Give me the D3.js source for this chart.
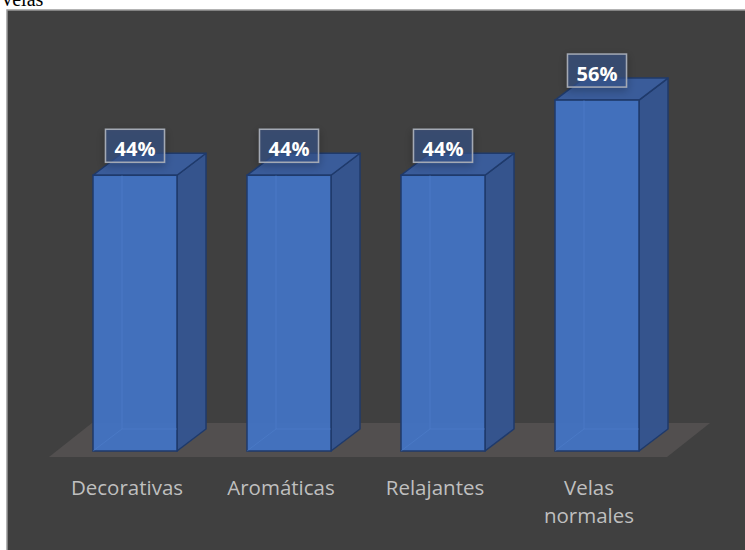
<!DOCTYPE html>
<html>
<head>
<meta charset="utf-8">
<script src="https://cdn.jsdelivr.net/npm/d3@7"></script>
<style>
  html, body { margin: 0; padding: 0; background: #ffffff; }
  svg { display: block; }
</style>
</head>
<body>
<svg id="chart" width="745" height="550"></svg>
<script>
// Survey shares by candle type
const categories = ["Decorativas", "Aromáticas", "Relajantes", "Velas normales"];
const values = [44, 44, 44, 56];
const valueLabels = ["44%", "44%", "44%", "56%"];
const chartTitle = "Velas";

const W = 745, H = 550;
const svg = d3.select("#chart");

// page heading, partly clipped by the top edge
svg.append("text")
  .attr("x", 0).attr("y", 6)
  .attr("font-family", "'Liberation Serif', 'Times New Roman', serif")
  .attr("font-size", 20)
  .attr("fill", "#000")
  .text(chartTitle);

// chart area
svg.append("rect")
  .attr("x", 7).attr("y", 10)
  .attr("width", W).attr("height", H)
  .attr("fill", "#404040")
  .attr("stroke", "#9a9a9a")
  .attr("stroke-width", 1.5);

// scales
const x = d3.scaleBand()
  .domain(categories)
  .range([23, 709])
  .padding(70 / 154);
const y = d3.scaleLinear()
  .domain([0, 60])
  .range([451, 75]);

// 3D depth offsets
const bdx = 29, bdy = -22;   // bar depth
const fdx = 43, fdy = -34;   // floor depth
const floorFront = 457;

// floor
const fl = x.range()[0] + 26, fr = x.range()[1] - 42;
svg.append("path")
  .attr("d", d3.line()([
    [fl, floorFront], [fr, floorFront],
    [fr + fdx, floorFront + fdy], [fl + fdx, floorFront + fdy]
  ]) + "Z")
  .attr("fill", "#524f4f");

// soft shadow for label boxes
const defs = svg.append("defs");
const sh = defs.append("filter").attr("id", "boxShadow")
  .attr("x", "-30%").attr("y", "-30%").attr("width", "160%").attr("height", "170%");
sh.append("feDropShadow")
  .attr("dx", 0).attr("dy", 3).attr("stdDeviation", 4)
  .attr("flood-color", "#000").attr("flood-opacity", 0.35);

const edge = "#1f3a6b";
const bars = svg.append("g").selectAll("g")
  .data(categories.map((c, i) => ({ c, v: values[i], label: valueLabels[i] })))
  .join("g");

bars.each(function (d) {
  const g = d3.select(this);
  const x0 = x(d.c), x1 = x0 + x.bandwidth();
  const y0 = y(0), y1 = y(d.v);
  const poly = pts => d3.line()(pts) + "Z";

  // hidden back edges, visible through the translucent faces
  g.append("path")
    .attr("d", d3.line()([[x0, y0], [x0 + bdx, y0 + bdy], [x1 + bdx, y0 + bdy]]))
    .attr("fill", "none").attr("stroke", "#2d4f8c").attr("stroke-width", 1);
  g.append("path")
    .attr("d", d3.line()([[x0 + bdx, y0 + bdy], [x0 + bdx, y1 + bdy]]))
    .attr("fill", "none").attr("stroke", "#2d4f8c").attr("stroke-width", 1);

  // side face
  g.append("path")
    .attr("d", poly([[x1, y0], [x1 + bdx, y0 + bdy], [x1 + bdx, y1 + bdy], [x1, y1]]))
    .attr("fill", "#35558f").attr("fill-opacity", 0.97)
    .attr("stroke", edge).attr("stroke-width", 1.5).attr("stroke-linejoin", "round");
  // top face
  g.append("path")
    .attr("d", poly([[x0, y1], [x1, y1], [x1 + bdx, y1 + bdy], [x0 + bdx, y1 + bdy]]))
    .attr("fill", "#3a5d9d").attr("fill-opacity", 0.97)
    .attr("stroke", edge).attr("stroke-width", 1.5).attr("stroke-linejoin", "round");
  // front face
  g.append("rect")
    .attr("x", x0).attr("y", y1)
    .attr("width", x1 - x0).attr("height", y0 - y1)
    .attr("fill", "#4372c2").attr("fill-opacity", 0.96)
    .attr("stroke", edge).attr("stroke-width", 1.5);
  // faint inner back edges through the front
  g.append("path")
    .attr("d", d3.line()([[x0, y0], [x0 + bdx, y0 + bdy], [x1, y0 + bdy]]))
    .attr("fill", "none").attr("stroke", "#5582cc").attr("stroke-opacity", 0.45).attr("stroke-width", 1);
  g.append("path")
    .attr("d", d3.line()([[x0 + bdx, y0 + bdy], [x0 + bdx, y1]]))
    .attr("fill", "none").attr("stroke", "#5582cc").attr("stroke-opacity", 0.45).attr("stroke-width", 1);

  // value label box
  const cx = (x0 + x1) / 2;
  const bw = 59, bh = 33;
  const by = y1 - 46;
  g.append("rect")
    .attr("x", cx - bw / 2).attr("y", by)
    .attr("width", bw).attr("height", bh)
    .attr("fill", "rgb(56,84,138)").attr("fill-opacity", 0.62)
    .attr("stroke", "#a3a9b4").attr("stroke-width", 1.5)
    .attr("filter", "url(#boxShadow)");
  g.append("text")
    .attr("x", cx).attr("y", by + 27)
    .attr("text-anchor", "middle")
    .attr("font-family", "'Open Sans', 'Noto Sans', sans-serif")
    .attr("font-weight", 700)
    .attr("font-size", 20)
    .attr("fill", "#ffffff")
    .text(d.label);
});

// category axis labels
const labelShift = -8;
const cat = svg.append("g");
categories.forEach(c => {
  const cx = x(c) + x.bandwidth() / 2 + labelShift;
  const words = c === "Velas normales" ? ["Velas", "normales"] : [c];
  const t = cat.append("text")
    .attr("text-anchor", "middle")
    .attr("font-family", "'Open Sans', 'Noto Sans', sans-serif")
    .attr("font-size", 20.5)
    .attr("fill", "#bfbfbf");
  words.forEach((w, i) => {
    t.append("tspan").attr("x", cx).attr("y", 495 + i * 28).text(w);
  });
});
</script>
</body>
</html>
